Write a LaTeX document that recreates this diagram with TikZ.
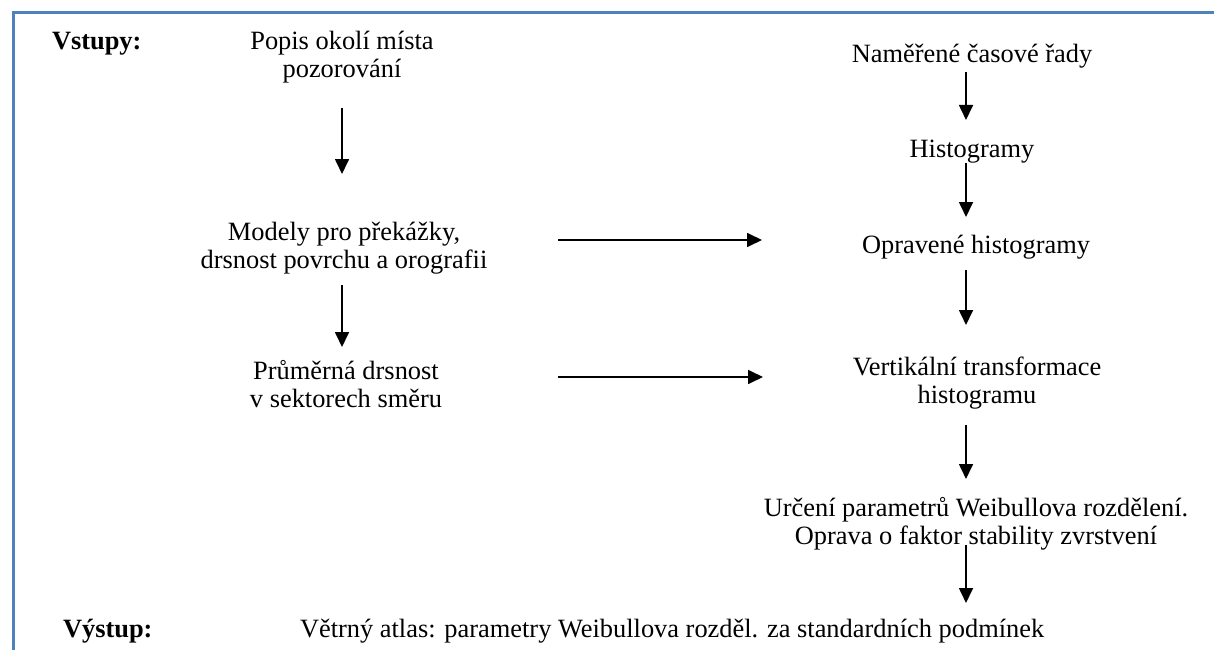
\documentclass[tikz,border=0pt]{standalone}
\usepackage{fontspec}
\setmainfont{Liberation Serif}
\usetikzlibrary{arrows.meta,calc}
\definecolor{frameblue}{RGB}{79,129,189}
\newcommand{\ml}[1]{\begin{tabular}[t]{@{}c@{}}#1\end{tabular}}
\begin{document}
\begin{tikzpicture}[x=1pt,y=-1pt,
  txt/.style={inner sep=0pt,outer sep=0pt,anchor=base,font=\fontsize{26.4}{28}\selectfont},
  lbl/.style={txt,anchor=base west,font=\fontsize{26.4}{28}\selectfont\bfseries},
  arr/.style={line width=1.7pt,-{Triangle[length=15pt,width=14pt]}}]
\useasboundingbox (0,0) rectangle (1214,650);
\draw[frameblue,line width=3pt] (13.5,650) -- (13.5,12.5) -- (1214,12.5);
\coordinate (colL) at (342,0);
\coordinate (colR) at (966,0);
% left column
\node[lbl] (vstupy) at (52,50) {Vstupy:};
\node[txt] (popis) at (342,50) {\ml{Popis okolí místa\\pozorování}};
\node[txt] (modely) at (344,240) {\ml{Modely pro překážky,\\drsnost povrchu a orografii}};
\node[txt] (prum) at (346,379) {\ml{Průměrná drsnost\\v sektorech směru}};
% right column
\node[txt] (nam) at (972,63) {Naměřené časové řady};
\node[txt] (hist) at (972,157) {Histogramy};
\node[txt] (oprav) at (976,253) {Opravené histogramy};
\node[txt] (vert) at (977,375) {\ml{Vertikální transformace\\histogramu}};
\node[txt] (urceni) at (976,516) {\ml{Určení parametrů Weibullova rozdělení.\\Oprava o faktor stability zvrstvení}};
% output
\node[lbl] (vystup) at (63,637) {Výstup:};
\node[txt,anchor=base west] (atlas) at (300,637) {Větrný atlas: parametry Weibullova rozděl. za standardních podmínek};
% left arrows
\draw[arr] ($(popis.base -| colL)+(0,58)$) -- ($(modely.base -| colL)+(0,-66)$);
\draw[arr] ($(modely.base -| colL)+(0,45)$) -- ($(prum.base -| colL)+(0,-32)$);
% horizontal arrows
\draw[arr] ($(modely.base -| colL)+(216,0)$) -- ($(modely.base -| colR)+(-204,0)$);
\draw[arr] ($(prum.base -| colL)+(216,-2)$) -- ($(prum.base -| colR)+(-203,-2)$);
% right arrows
\draw[arr] ($(nam.base -| colR)+(0,9)$) -- ($(hist.base -| colR)+(0,-37)$);
\draw[arr] ($(hist.base -| colR)+(0,6)$) -- ($(oprav.base -| colR)+(0,-36)$);
\draw[arr] ($(oprav.base -| colR)+(0,17)$) -- ($(vert.base -| colR)+(0,-50)$);
\draw[arr] ($(vert.base -| colR)+(0,50)$) -- ($(urceni.base -| colR)+(0,-37)$);
\draw[arr] ($(urceni.base -| colR)+(0,29)$) -- ($(atlas.base -| colR)+(0,-34)$);
\end{tikzpicture}
\end{document}
